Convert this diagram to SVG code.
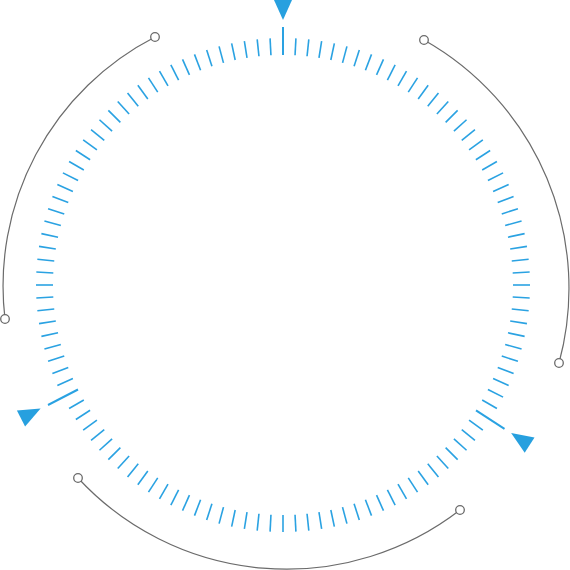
<svg xmlns="http://www.w3.org/2000/svg" xmlns:xlink="http://www.w3.org/1999/xlink" width="570" height="570" viewBox="0 0 570 570">
<style>
.tick{stroke:#2aa2e2;stroke-width:1.6;}
.long{stroke:#2aa2e2;stroke-width:2;}
.marker{fill:#27a0df;}
.arc{fill:none;stroke:#6b6b6b;stroke-width:1.2;}
.dot{fill:#fff;stroke:#6b6b6b;stroke-width:1.3;}
</style>
<defs>
<line id="t" class="tick" x1="513" y1="285" x2="530" y2="285"/>
</defs>
<rect width="570" height="570" fill="#fff"/>
<g id="ticks">
<use xlink:href="#t" transform="rotate(0 283 285)"/><use xlink:href="#t" transform="rotate(3 283 285)"/><use xlink:href="#t" transform="rotate(6 283 285)"/><use xlink:href="#t" transform="rotate(9 283 285)"/><use xlink:href="#t" transform="rotate(12 283 285)"/><use xlink:href="#t" transform="rotate(15 283 285)"/><use xlink:href="#t" transform="rotate(18 283 285)"/><use xlink:href="#t" transform="rotate(21 283 285)"/><use xlink:href="#t" transform="rotate(24 283 285)"/><use xlink:href="#t" transform="rotate(27 283 285)"/><use xlink:href="#t" transform="rotate(30 283 285)"/>
<use xlink:href="#t" transform="rotate(36 283 285)"/><use xlink:href="#t" transform="rotate(39 283 285)"/><use xlink:href="#t" transform="rotate(42 283 285)"/><use xlink:href="#t" transform="rotate(45 283 285)"/><use xlink:href="#t" transform="rotate(48 283 285)"/><use xlink:href="#t" transform="rotate(51 283 285)"/><use xlink:href="#t" transform="rotate(54 283 285)"/><use xlink:href="#t" transform="rotate(57 283 285)"/><use xlink:href="#t" transform="rotate(60 283 285)"/><use xlink:href="#t" transform="rotate(63 283 285)"/><use xlink:href="#t" transform="rotate(66 283 285)"/><use xlink:href="#t" transform="rotate(69 283 285)"/><use xlink:href="#t" transform="rotate(72 283 285)"/><use xlink:href="#t" transform="rotate(75 283 285)"/><use xlink:href="#t" transform="rotate(78 283 285)"/><use xlink:href="#t" transform="rotate(81 283 285)"/><use xlink:href="#t" transform="rotate(84 283 285)"/><use xlink:href="#t" transform="rotate(87 283 285)"/><use xlink:href="#t" transform="rotate(90 283 285)"/><use xlink:href="#t" transform="rotate(93 283 285)"/><use xlink:href="#t" transform="rotate(96 283 285)"/><use xlink:href="#t" transform="rotate(99 283 285)"/><use xlink:href="#t" transform="rotate(102 283 285)"/><use xlink:href="#t" transform="rotate(105 283 285)"/><use xlink:href="#t" transform="rotate(108 283 285)"/><use xlink:href="#t" transform="rotate(111 283 285)"/><use xlink:href="#t" transform="rotate(114 283 285)"/><use xlink:href="#t" transform="rotate(117 283 285)"/><use xlink:href="#t" transform="rotate(120 283 285)"/><use xlink:href="#t" transform="rotate(123 283 285)"/><use xlink:href="#t" transform="rotate(126 283 285)"/><use xlink:href="#t" transform="rotate(129 283 285)"/><use xlink:href="#t" transform="rotate(132 283 285)"/><use xlink:href="#t" transform="rotate(135 283 285)"/><use xlink:href="#t" transform="rotate(138 283 285)"/><use xlink:href="#t" transform="rotate(141 283 285)"/><use xlink:href="#t" transform="rotate(144 283 285)"/><use xlink:href="#t" transform="rotate(147 283 285)"/><use xlink:href="#t" transform="rotate(150 283 285)"/>
<use xlink:href="#t" transform="rotate(156 283 285)"/><use xlink:href="#t" transform="rotate(159 283 285)"/><use xlink:href="#t" transform="rotate(162 283 285)"/><use xlink:href="#t" transform="rotate(165 283 285)"/><use xlink:href="#t" transform="rotate(168 283 285)"/><use xlink:href="#t" transform="rotate(171 283 285)"/><use xlink:href="#t" transform="rotate(174 283 285)"/><use xlink:href="#t" transform="rotate(177 283 285)"/><use xlink:href="#t" transform="rotate(180 283 285)"/><use xlink:href="#t" transform="rotate(183 283 285)"/><use xlink:href="#t" transform="rotate(186 283 285)"/><use xlink:href="#t" transform="rotate(189 283 285)"/><use xlink:href="#t" transform="rotate(192 283 285)"/><use xlink:href="#t" transform="rotate(195 283 285)"/><use xlink:href="#t" transform="rotate(198 283 285)"/><use xlink:href="#t" transform="rotate(201 283 285)"/><use xlink:href="#t" transform="rotate(204 283 285)"/><use xlink:href="#t" transform="rotate(207 283 285)"/><use xlink:href="#t" transform="rotate(210 283 285)"/><use xlink:href="#t" transform="rotate(213 283 285)"/><use xlink:href="#t" transform="rotate(216 283 285)"/><use xlink:href="#t" transform="rotate(219 283 285)"/><use xlink:href="#t" transform="rotate(222 283 285)"/><use xlink:href="#t" transform="rotate(225 283 285)"/><use xlink:href="#t" transform="rotate(228 283 285)"/><use xlink:href="#t" transform="rotate(231 283 285)"/><use xlink:href="#t" transform="rotate(234 283 285)"/><use xlink:href="#t" transform="rotate(237 283 285)"/><use xlink:href="#t" transform="rotate(240 283 285)"/><use xlink:href="#t" transform="rotate(243 283 285)"/><use xlink:href="#t" transform="rotate(246 283 285)"/><use xlink:href="#t" transform="rotate(249 283 285)"/><use xlink:href="#t" transform="rotate(252 283 285)"/><use xlink:href="#t" transform="rotate(255 283 285)"/><use xlink:href="#t" transform="rotate(258 283 285)"/><use xlink:href="#t" transform="rotate(261 283 285)"/><use xlink:href="#t" transform="rotate(264 283 285)"/><use xlink:href="#t" transform="rotate(267 283 285)"/>
<use xlink:href="#t" transform="rotate(273 283 285)"/><use xlink:href="#t" transform="rotate(276 283 285)"/><use xlink:href="#t" transform="rotate(279 283 285)"/><use xlink:href="#t" transform="rotate(282 283 285)"/><use xlink:href="#t" transform="rotate(285 283 285)"/><use xlink:href="#t" transform="rotate(288 283 285)"/><use xlink:href="#t" transform="rotate(291 283 285)"/><use xlink:href="#t" transform="rotate(294 283 285)"/><use xlink:href="#t" transform="rotate(297 283 285)"/><use xlink:href="#t" transform="rotate(300 283 285)"/><use xlink:href="#t" transform="rotate(303 283 285)"/><use xlink:href="#t" transform="rotate(306 283 285)"/><use xlink:href="#t" transform="rotate(309 283 285)"/><use xlink:href="#t" transform="rotate(312 283 285)"/><use xlink:href="#t" transform="rotate(315 283 285)"/><use xlink:href="#t" transform="rotate(318 283 285)"/><use xlink:href="#t" transform="rotate(321 283 285)"/><use xlink:href="#t" transform="rotate(324 283 285)"/><use xlink:href="#t" transform="rotate(327 283 285)"/><use xlink:href="#t" transform="rotate(330 283 285)"/><use xlink:href="#t" transform="rotate(333 283 285)"/><use xlink:href="#t" transform="rotate(336 283 285)"/><use xlink:href="#t" transform="rotate(339 283 285)"/><use xlink:href="#t" transform="rotate(342 283 285)"/><use xlink:href="#t" transform="rotate(345 283 285)"/><use xlink:href="#t" transform="rotate(348 283 285)"/><use xlink:href="#t" transform="rotate(351 283 285)"/><use xlink:href="#t" transform="rotate(354 283 285)"/><use xlink:href="#t" transform="rotate(357 283 285)"/>
</g>
<g id="pointer-top">
<line class="long" x1="283" y1="27" x2="283" y2="55"/>
<polygon class="marker" points="274,0 292,0 283,20"/>
</g>
<g id="pointer-left">
<line class="long" x1="48" y1="405" x2="78" y2="389.5"/>
<polygon class="marker" points="16.9,410.5 25.1,426.5 40.6,408.5"/>
</g>
<g id="pointer-right">
<line class="long" x1="476" y1="410.3" x2="504.5" y2="428.8"/>
<polygon class="marker" points="534.5,437.5 524.7,452.7 511.1,433.1"/>
</g>
<g id="connectors">
<path class="arc" d="M155,37 A280,280 0 0 0 5,319"/>
<path class="arc" d="M424,40 A285,285 0 0 1 559,363"/>
<path class="arc" d="M78,478 A284,284 0 0 0 460,510"/>
</g>
<g id="node-left-top"><circle class="dot" cx="155" cy="37" r="4.3"/></g>
<g id="node-left-bottom"><circle class="dot" cx="5" cy="319" r="4.3"/></g>
<g id="node-right-top"><circle class="dot" cx="424" cy="40" r="4.3"/></g>
<g id="node-right-bottom"><circle class="dot" cx="559" cy="363" r="4.3"/></g>
<g id="node-bottom-left"><circle class="dot" cx="78" cy="478" r="4.3"/></g>
<g id="node-bottom-right"><circle class="dot" cx="460" cy="510" r="4.3"/></g>
</svg>
